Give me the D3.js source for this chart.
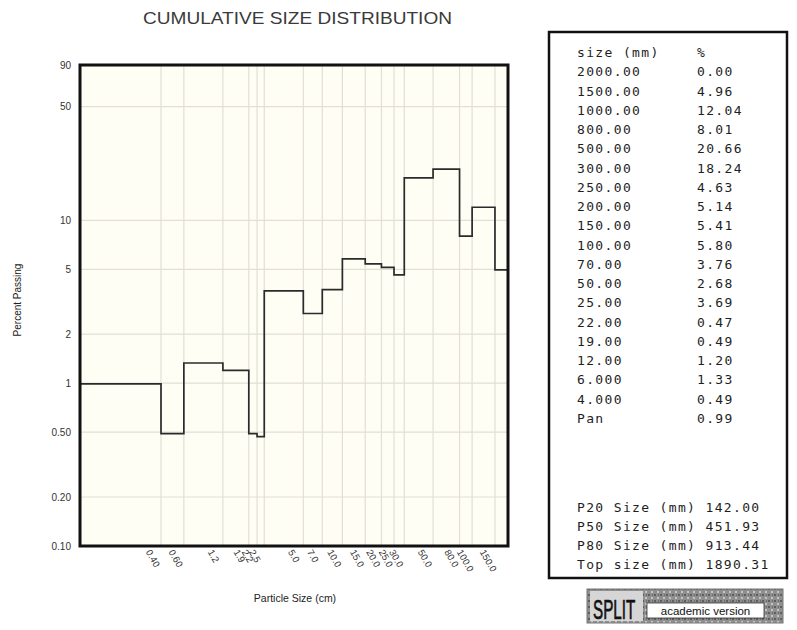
<!DOCTYPE html>
<html>
<head>
<meta charset="utf-8">
<script src="https://cdn.jsdelivr.net/npm/d3@7"></script>
<style>
  html, body { margin: 0; padding: 0; background: #fff; }
  svg { display: block; }
</style>
</head>
<body>
<svg id="chart" width="797" height="630" font-family="Arial, 'Liberation Sans', sans-serif"></svg>
<script>
// ---------------- data ----------------
const tableSizes   = ["2000.00","1500.00","1000.00","800.00","500.00","300.00","250.00","200.00","150.00","100.00","70.00","50.00","25.00","22.00","19.00","12.00","6.000","4.000","Pan"];
const tablePercent = ["0.00","4.96","12.04","8.01","20.66","18.24","4.63","5.14","5.41","5.80","3.76","2.68","3.69","0.47","0.49","1.20","1.33","0.49","0.99"];
const sieveMm      = [2000,1500,1000,800,500,300,250,200,150,100,70,50,25,22,19,12,6,4];
const retained     = [0.00,4.96,12.04,8.01,20.66,18.24,4.63,5.14,5.41,5.80,3.76,2.68,3.69,0.47,0.49,1.20,1.33,0.49];
const panRetained  = 0.99;
const xTickMm      = [4,6,12,19,22,25,50,70,100,150,200,250,300,500,800,1000,1500];
const xTickLabels  = ["0.40","0.60","1.2","1.9","2.2","2.5","5.0","7.0","10.0","15.0","20.0","25.0","30.0","50.0","80.0","100.0","150.0"];
const yTickValues  = [0.1,0.2,0.5,1,2,5,10,50,90];
const yTickLabels  = ["0.10","0.20","0.50","1","2","5","10","50","90"];
const yGridValues  = [0.2,0.5,1,2,5,10,50];
const statLabels   = ["P20 Size (mm) 142.00","P50 Size (mm) 451.93","P80 Size (mm) 913.44","Top size (mm) 1890.31"];
const xDomainMm    = [0.95, 1890.31];
const yDomain      = [0.1, 90];

// ---------------- layout ----------------
const svg = d3.select("#chart");
const L = 80, R = 508, T = 65, B = 546;

const x = d3.scaleLog().domain(xDomainMm).range([L, R]);
const y = d3.scaleLog().domain(yDomain).range([B, T]);

// title
svg.append("text")
  .attr("x", 143).attr("y", 24)
  .attr("textLength", 309).attr("lengthAdjust", "spacingAndGlyphs")
  .attr("font-size", 16.5).attr("fill", "#3a3a3a")
  .text("CUMULATIVE SIZE DISTRIBUTION");

// plot background
svg.append("rect").attr("x", L).attr("y", T).attr("width", R - L).attr("height", B - T)
  .attr("fill", "#fffef4");

// grid
const grid = svg.append("g");
grid.selectAll("line.vx").data(xTickMm).join("line")
  .attr("x1", d => x(d)).attr("x2", d => x(d)).attr("y1", T).attr("y2", B)
  .attr("stroke", "#e1dfd6").attr("stroke-width", 1.2);
grid.selectAll("line.hy").data(yGridValues).join("line")
  .attr("y1", d => y(d)).attr("y2", d => y(d)).attr("x1", L).attr("x2", R)
  .attr("stroke", "#e1dfd6").attr("stroke-width", 1.2);

// step line
const pts = [[xDomainMm[0], panRetained]];
for (let i = sieveMm.length - 1; i >= 1; i--) pts.push([sieveMm[i], retained[i]]);
pts.push([sieveMm[0], retained[1]]);
svg.append("clipPath").attr("id", "clip").append("rect")
  .attr("x", L).attr("y", T).attr("width", R - L).attr("height", B - T);
svg.append("path")
  .attr("clip-path", "url(#clip)")
  .attr("d", d3.line().x(d => x(d[0])).y(d => y(d[1])).curve(d3.curveStepAfter)(pts))
  .attr("fill", "none").attr("stroke", "#2b2b2b").attr("stroke-width", 1.7);

// frame
svg.append("rect").attr("x", L).attr("y", T).attr("width", R - L).attr("height", B - T)
  .attr("fill", "none").attr("stroke", "#111").attr("stroke-width", 3);

// y axis
const yAxis = d3.axisLeft(y).tickValues(yTickValues)
  .tickFormat((d, i) => yTickLabels[i]).tickSize(0).tickPadding(8);
const gy = svg.append("g").attr("transform", `translate(${L - 1},0)`).call(yAxis);
gy.attr("font-family", null).attr("font-size", null);
gy.select(".domain").remove();
gy.selectAll("text").attr("font-size", 10).attr("fill", "#333");

// x axis
const xAxis = d3.axisBottom(x).tickValues(xTickMm)
  .tickFormat((d, i) => xTickLabels[i]).tickSize(0);
const gx = svg.append("g").attr("transform", `translate(0,${B})`).call(xAxis);
gx.attr("font-family", null).attr("font-size", null);
gx.select(".domain").remove();
gx.selectAll("text")
  .attr("font-size", 9.5).attr("fill", "#333")
  .attr("text-anchor", "start")
  .attr("dy", null).attr("y", 0)
  .attr("transform", "translate(-16,6) rotate(60)");

// axis titles
svg.append("text").attr("x", 295).attr("y", 602).attr("text-anchor", "middle")
  .attr("font-size", 10.5).attr("fill", "#222").text("Particle Size (cm)");
svg.append("text").attr("transform", "translate(21,300) rotate(-90)").attr("text-anchor", "middle")
  .attr("font-size", 10).attr("fill", "#222").text("Percent Passing");

// table box
svg.append("rect").attr("x", 549).attr("y", 32).attr("width", 238).attr("height", 546)
  .attr("fill", "#fff").attr("stroke", "#111").attr("stroke-width", 2.5);

const mono = "'DejaVu Sans Mono', 'Liberation Mono', monospace";
const tg = svg.append("g").attr("font-family", mono).attr("font-size", 13).attr("fill", "#1e1e1e")
  .attr("letter-spacing", 1.35);
const rowH = 19.25, row0 = 57;
tg.append("text").attr("x", 577).attr("y", row0).text("size (mm)");
tg.append("text").attr("x", 697).attr("y", row0).text("%");
tg.selectAll("text.sz").data(tableSizes).join("text").attr("class", "sz")
  .attr("x", 577).attr("y", (d, i) => row0 + (i + 1) * rowH).text(d => d);
tg.selectAll("text.pc").data(tablePercent).join("text").attr("class", "pc")
  .attr("x", 697).attr("y", (d, i) => row0 + (i + 1) * rowH).text(d => d);
tg.selectAll("text.st").data(statLabels).join("text").attr("class", "st")
  .attr("x", 577).attr("y", (d, i) => 511.5 + i * 19.3).text(d => d);

// SPLIT logo
const logo = svg.append("g");
const pat = svg.append("defs").append("pattern").attr("id", "tex")
  .attr("width", 6).attr("height", 6).attr("patternUnits", "userSpaceOnUse");
pat.append("rect").attr("width", 6).attr("height", 6).attr("fill", "#8f8f8f");
pat.append("rect").attr("x", 0).attr("y", 0).attr("width", 2).attr("height", 2).attr("fill", "#5e5e5e");
pat.append("rect").attr("x", 3).attr("y", 3).attr("width", 2).attr("height", 2).attr("fill", "#c4c4c4");
pat.append("rect").attr("x", 4).attr("y", 0).attr("width", 1).attr("height", 2).attr("fill", "#6f6f6f");
logo.append("rect").attr("x", 587).attr("y", 589).attr("width", 196).attr("height", 34)
  .attr("fill", "url(#tex)").attr("stroke", "#777").attr("stroke-width", 1);
logo.append("rect").attr("x", 590).attr("y", 591).attr("width", 53).attr("height", 30).attr("fill", "#d6d6d6");
logo.append("text").attr("transform", "translate(593,619) scale(0.95,1.75)")
  .attr("font-size", 16).attr("fill", "#111").attr("stroke", "#111").attr("stroke-width", 0.4)
  .text("SPLIT");
logo.append("rect").attr("x", 647).attr("y", 603).attr("width", 117).attr("height", 15)
  .attr("fill", "#fff").attr("stroke", "#333").attr("stroke-width", 0.8);
logo.append("text").attr("x", 705.5).attr("y", 614.5).attr("text-anchor", "middle")
  .attr("font-size", 11.5).attr("fill", "#111").text("academic version");
</script>
</body>
</html>
